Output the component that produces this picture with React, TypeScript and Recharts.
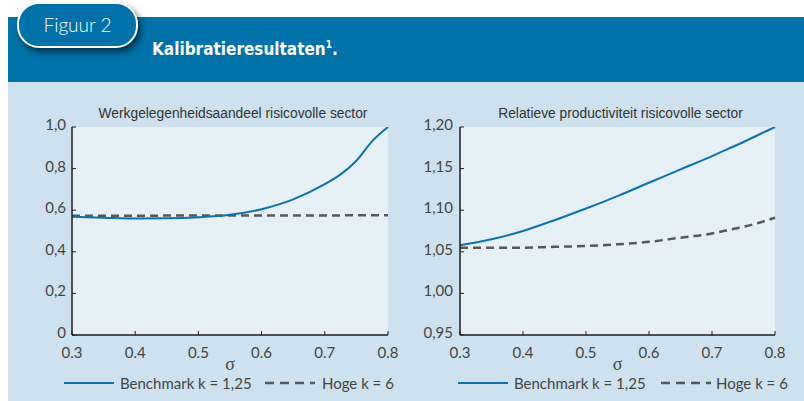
import { LineChart, Line, XAxis, YAxis, CartesianGrid } from 'recharts'

const sigma = [0.3, 0.35, 0.4, 0.45, 0.5, 0.55, 0.6, 0.65, 0.7, 0.725, 0.75, 0.775, 0.8]

// werkgelegenheidsaandeel
const empBenchmark = [0.568, 0.564, 0.56, 0.561, 0.566, 0.578, 0.605, 0.652, 0.725, 0.772, 0.838, 0.932, 1.0]
const empHoge = [0.573, 0.573, 0.573, 0.574, 0.574, 0.574, 0.575, 0.575, 0.575, 0.575, 0.576, 0.576, 0.576]

// relatieve productiviteit
const prodBenchmark = [1.058, 1.065, 1.075, 1.088, 1.102, 1.117, 1.133, 1.149, 1.165, 1.1735, 1.182, 1.191, 1.2]
const prodHoge = [1.055, 1.055, 1.055, 1.056, 1.057, 1.059, 1.062, 1.067, 1.072, 1.076, 1.08, 1.085, 1.091]

const xTicks = [0.3, 0.4, 0.5, 0.6, 0.7, 0.8]
const empTicks = [0, 0.2, 0.4, 0.6, 0.8, 1.0]
const prodTicks = [0.95, 1.0, 1.05, 1.1, 1.15, 1.2]

const BLUE = '#0b72ad'
const GREY = '#58585a'
const TXT = '#444'
const FONT = 'Lato, "Open Sans", sans-serif'

const empData = sigma.map((s, i) => ({ s, bench: empBenchmark[i], hoge: empHoge[i] }))
const prodData = sigma.map((s, i) => ({ s, bench: prodBenchmark[i], hoge: prodHoge[i] }))

const fmtComma = (decimals: number) => (v: number) =>
  v === 0 ? '0' : v.toFixed(decimals).replace('.', ',')

const YTick = ({ x, y, payload, fmt }: any) => (
  <text x={x} y={y - 3} textAnchor="end" dominantBaseline="central" fill={TXT} fontSize={15} fontFamily={FONT}>
    {fmt(payload.value)}
  </text>
)

interface PanelProps {
  left: number
  title: string
  data: any[]
  domain: [number, number]
  ticks: number[]
  fmt: (v: number) => string
  yWidth: number
  marginRight: number
  yMargin: number
  legendX: number[]
}

function Panel({ left, title, data, domain, ticks, fmt, yWidth, marginRight, yMargin, legendX }: PanelProps) {
  const plotLeft = left + yWidth
  const plotRight = left + 392 - marginRight
  const mid = (plotLeft + plotRight) / 2
  return (
    <>
      <div
        style={{
          position: 'absolute',
          left: mid + 3 - 200,
          width: 400,
          top: 105,
          textAlign: 'center',
          fontFamily: '"Liberation Sans", Arial, sans-serif',
          fontSize: 13.8,
          color: '#333',
          lineHeight: '18px',
        }}
      >
        {title}
      </div>
      <div style={{ position: 'absolute', left, top: 82 }}>
        <LineChart width={392} height={283} data={data} margin={{ top: 45, right: marginRight, bottom: 0, left: 0 }}>
          <CartesianGrid fill="#e5f0f7" horizontal={false} vertical={false} />
          <XAxis
            dataKey="s"
            type="number"
            domain={[0.3, 0.8]}
            ticks={xTicks}
            tickFormatter={(v: number) => v.toFixed(1)}
            height={30}
            tickSize={-4}
            tickMargin={16}
            axisLine={{ stroke: '#1e1e1e', strokeWidth: 1.5 }}
            tickLine={{ stroke: '#1e1e1e', strokeWidth: 1 }}
            tick={{ fill: TXT, fontSize: 15, fontFamily: FONT }}
            interval={0}
          />
          <YAxis
            domain={domain}
            ticks={ticks}
            width={yWidth}
            tickSize={-4}
            tickMargin={yMargin}
            axisLine={{ stroke: '#1e1e1e', strokeWidth: 1.5 }}
            tickLine={{ stroke: '#1e1e1e', strokeWidth: 1 }}
            tick={<YTick fmt={fmt} />}
            interval={0}
            allowDataOverflow
          />
          <Line
            type="monotone"
            dataKey="hoge"
            stroke={GREY}
            strokeWidth={2.5}
            strokeDasharray="8 5"
            dot={false}
            isAnimationActive={false}
          />
          <Line type="monotone" dataKey="bench" stroke={BLUE} strokeWidth={2} dot={false} isAnimationActive={false} />
        </LineChart>
      </div>
      <div
        style={{
          position: 'absolute',
          left: mid - 20,
          width: 40,
          top: 354,
          textAlign: 'center',
          fontFamily: '"Liberation Serif", serif',
          fontSize: 18,
          color: TXT,
          lineHeight: '20px',
        }}
      >
        σ
      </div>
      <svg style={{ position: 'absolute', left: legendX[0], top: 378 }} width={50} height={10}>
        <line x1={0} y1={5} x2={50} y2={5} stroke={BLUE} strokeWidth={2} />
      </svg>
      <div style={{ position: 'absolute', left: legendX[1], top: 373, fontFamily: FONT, fontSize: 15, color: TXT, lineHeight: '20px', whiteSpace: 'nowrap' }}>
        Benchmark k = 1,25
      </div>
      <svg style={{ position: 'absolute', left: legendX[2], top: 378 }} width={50} height={10}>
        <line x1={0} y1={5} x2={50} y2={5} stroke={GREY} strokeWidth={2.5} strokeDasharray="9 6" />
      </svg>
      <div style={{ position: 'absolute', left: legendX[3], top: 373, fontFamily: FONT, fontSize: 15, color: TXT, lineHeight: '20px', whiteSpace: 'nowrap' }}>
        Hoge k = 6
      </div>
    </>
  )
}

export default function App() {
  return (
    <div style={{ position: 'absolute', left: 0, top: 0, width: 804, height: 401, background: '#fff', overflow: 'hidden' }}>
      <div style={{ position: 'absolute', left: 8, top: 17, width: 796, height: 65, background: '#0071a9' }} />
      <div style={{ position: 'absolute', left: 8, top: 82, width: 796, height: 319, background: '#cde2ee' }} />
      <div
        style={{
          position: 'absolute',
          left: 17,
          top: 2,
          width: 117,
          height: 42,
          borderRadius: 22,
          border: '2px solid #fff',
          background: '#0071a9',
          boxShadow: '3px 4px 6px rgba(0,0,0,0.55)',
          color: '#fff',
          fontFamily: FONT,
          fontSize: 19,
          fontWeight: 300,
          textAlign: 'center',
          lineHeight: '42px',
        }}
      >
        Figuur 2
      </div>
      <div
        style={{
          position: 'absolute',
          left: 152,
          top: 38,
          color: '#fff',
          fontFamily: '"Liberation Sans Narrow", "DejaVu Sans Condensed", sans-serif',
          fontWeight: 700,
          fontSize: 17,
          lineHeight: '22px',
          whiteSpace: 'nowrap',
        }}
      >
        Kalibratieresultaten<span style={{ fontSize: 10, verticalAlign: 'super', lineHeight: 0 }}>1</span>.
      </div>
      <Panel
        left={8}
        title="Werkgelegenheidsaandeel risicovolle sector"
        data={empData}
        domain={[0, 1]}
        ticks={empTicks}
        fmt={fmtComma(1)}
        yWidth={64}
        marginRight={12}
        yMargin={10}
        legendX={[64, 120, 265, 322]}
      />
      <Panel
        left={400}
        title="Relatieve productiviteit risicovolle sector"
        data={prodData}
        domain={[0.95, 1.2]}
        ticks={prodTicks}
        fmt={fmtComma(2)}
        yWidth={60}
        marginRight={17}
        yMargin={11}
        legendX={[458, 514, 661, 716]}
      />
    </div>
  )
}
